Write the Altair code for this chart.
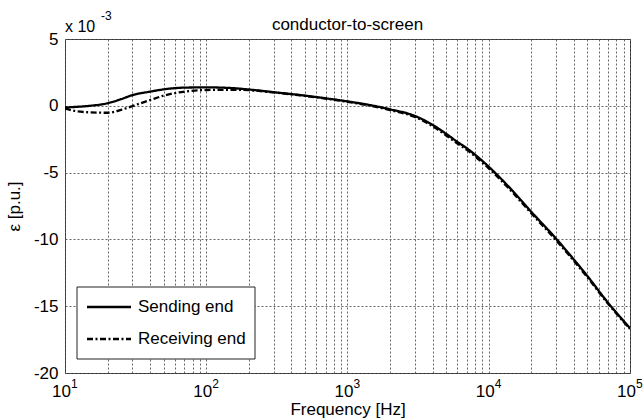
import altair as alt
import pandas as pd

# ---- data (epsilon in units of 1e-3 p.u.) ----
freq = [10, 12, 15, 20, 25, 30, 40, 50, 70, 100, 150, 200, 300, 500, 700,
        1000, 1500, 2000, 3000, 4000, 5000, 6000, 7000, 8000, 9000, 10000, 15000,
        20000, 30000, 40000, 50000, 70000, 100000]
sending = [-0.12, -0.08, 0.0, 0.19, 0.5, 0.8, 1.06, 1.23, 1.36, 1.38, 1.33, 1.22,
           1.02, 0.76, 0.56, 0.33, 0.02, -0.26, -0.76, -1.42, -2.1, -2.7, -3.18,
           -3.66, -4.12, -4.56, -6.45, -7.93, -9.95, -11.5, -12.75, -14.75, -16.65]
receiving = [-0.2, -0.4, -0.49, -0.52, -0.3, -0.02, 0.43, 0.76, 1.06, 1.18, 1.2, 1.17,
             1.0, 0.74, 0.54, 0.3, -0.03, -0.32, -0.84, -1.52, -2.22, -2.82, -3.3,
             -3.78, -4.24, -4.68, -6.57, -8.05, -10.07, -11.6, -12.85, -14.82, -16.7]
series_names = ["Sending end", "Receiving end"]
decades = [10, 100, 1000, 10000, 100000]
exponents = ["1", "2", "3", "4", "5"]
y_ticks = [-20, -15, -10, -5, 0, 5]
x_grid = [m * 10 ** k for k in range(1, 5) for m in range(1, 10)] + [100000]
title_text = "conductor-to-screen"

W, H = 565, 334
FONT = "Liberation Sans"

rows = []
for f, s, r in zip(freq, sending, receiving):
    rows.append({"freq": f, "eps": s, "series": series_names[0]})
    rows.append({"freq": f, "eps": r, "series": series_names[1]})
df = pd.DataFrame(rows)

xscale = alt.Scale(type="log", domain=[10, 100000], nice=False)
yscale = alt.Scale(domain=[-20, 5], nice=False, zero=False)

label_expr = ("(datum.value==10||datum.value==100||datum.value==1000||"
              "datum.value==10000||datum.value==100000) ? '10' : ''")

dash_scale = alt.Scale(domain=series_names, range=[[1, 0], [6, 2.5, 2, 2.5]])

lines = alt.Chart(df).mark_line(strokeWidth=2.3, color="black", clip=True,
                                interpolate="monotone").encode(
    x=alt.X("freq:Q", scale=xscale, title="Frequency [Hz]",
            axis=alt.Axis(values=x_grid, labelExpr=label_expr, labelOverlap=False,
                          labelFlush=False, labelOffset=-4, labelPadding=10,
                          titlePadding=2)),
    y=alt.Y("eps:Q", scale=yscale, title="ε [p.u.]",
            axis=alt.Axis(values=y_ticks, labelExpr="toString(datum.value)",
                          labelPadding=7, titlePadding=10)),
    strokeDash=alt.StrokeDash("series:N", scale=dash_scale, legend=None),
    detail="series:N",
)

exp_df = pd.DataFrame({"freq": decades, "exp": exponents})
exps = alt.Chart(exp_df).mark_text(fontSize=12, font=FONT, align="left",
                                   baseline="top", dx=6, color="black").encode(
    x=alt.X("freq:Q", scale=xscale),
    y=alt.value(H + 6),
    text="exp:N",
)

# title
title = alt.Chart(pd.DataFrame({"t": [title_text]})).mark_text(
    fontSize=17, font=FONT, align="center", baseline="alphabetic", color="black"
).encode(x=alt.value(W / 2), y=alt.value(-9), text="t:N")

# y-axis multiplier "x 10^-3"
mult = alt.Chart(pd.DataFrame({"t": ["x 10"]})).mark_text(
    fontSize=16, font=FONT, align="left", baseline="alphabetic", color="black"
).encode(x=alt.value(0), y=alt.value(-7), text="t:N")
mult_exp = alt.Chart(pd.DataFrame({"t": ["-3"]})).mark_text(
    fontSize=12, font=FONT, align="left", baseline="alphabetic", color="black"
).encode(x=alt.value(36), y=alt.value(-19), text="t:N")

# legend box
leg_box = alt.Chart(pd.DataFrame({"a": [0]})).mark_rect(
    fill="white", stroke="#222", strokeWidth=1
).encode(x=alt.value(12), x2=alt.value(190), y=alt.value(248), y2=alt.value(320))
leg_df = pd.DataFrame({"series": series_names, "yy": [268, 300]})
leg_lines = alt.Chart(leg_df).mark_rule(strokeWidth=2.3, color="black").encode(
    x=alt.value(22), x2=alt.value(66), y=alt.Y("yy:Q", scale=None),
    strokeDash=alt.StrokeDash("series:N", scale=dash_scale, legend=None),
)
leg_text = alt.Chart(leg_df).mark_text(fontSize=17, font=FONT, align="left",
                                       baseline="middle", color="black").encode(
    x=alt.value(73), y=alt.Y("yy:Q", scale=None), text="series:N"
)

chart = alt.layer(lines, exps, title, mult, mult_exp, leg_box, leg_lines, leg_text).properties(
    width=W, height=H,
    autosize="none",
    background="white",
    padding={"left": 65, "top": 39, "right": 13, "bottom": 45},
).configure_view(
    stroke="#333", strokeWidth=1
).configure_axis(
    grid=True, gridColor="#555", gridDash=[2, 2], gridWidth=1, gridOpacity=0.9,
    domain=False, ticks=False, tickSize=0,
    labelFont=FONT, labelFontSize=17, labelColor="black",
    titleFont=FONT, titleFontSize=17, titleColor="black", titleFontWeight="normal",
)

chart.save("out.html", embed_options={"renderer": "svg", "actions": False})
